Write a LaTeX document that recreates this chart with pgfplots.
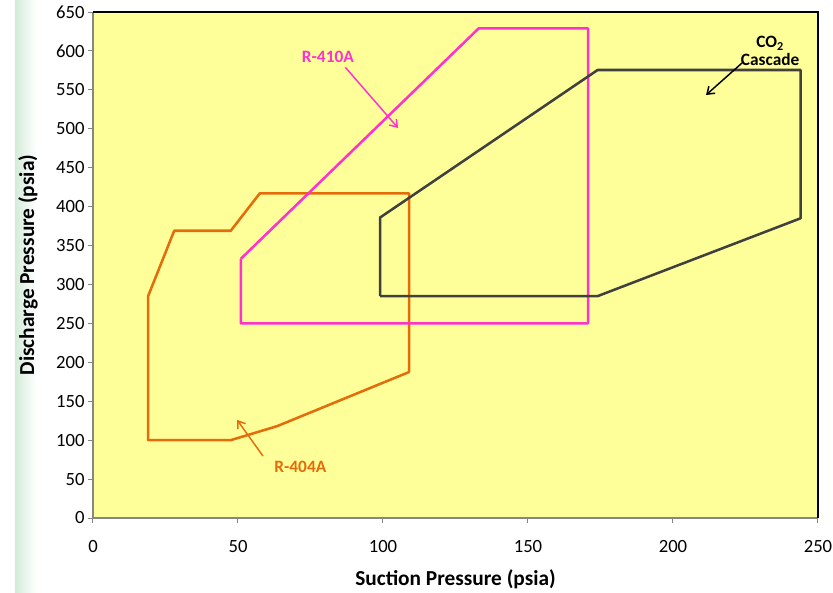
\documentclass[border=0pt]{standalone}
\usepackage{pgfplots}
\pgfplotsset{compat=1.18}
\usepackage{fontspec}
\setmainfont{Carlito}
\usetikzlibrary{arrows.meta}

\definecolor{bgyellow}{HTML}{FFFF99}
\definecolor{c404}{HTML}{E46C0A}
\definecolor{c410}{HTML}{FF33CC}
\definecolor{cco2}{HTML}{404040}
\definecolor{axgray}{HTML}{868686}
\definecolor{stripgreen}{HTML}{D4EBD9}

\begin{document}
\begin{tikzpicture}
  \useasboundingbox (-69.75pt,-56.25pt) rectangle (555pt,388.5pt);
  \fill[white] (-69.75pt,-56.25pt) rectangle (555pt,388.5pt);
  \shade[left color=stripgreen, right color=white] (-58.5pt,-56.25pt) rectangle (-42.75pt,388.5pt);

  \begin{axis}[
    at={(0,0)}, anchor=south west,
    scale only axis,
    width=543.75pt, height=379.5pt,
    xmin=0, xmax=250, ymin=0, ymax=650,
    xtick distance=50, ytick distance=50,
    tick align=outside, tick pos=left,
    major tick length=3.75pt,
    tick style={axgray, line width=0.75pt},
    axis line style={draw=none},
    axis background/.style={fill=bgyellow},
    /pgf/number format/assume math mode=true,
    ticklabel style={font=\fontsize{14}{16}\selectfont},
    xticklabel style={anchor=center, yshift=-18pt},
    yticklabel style={anchor=east, xshift=1pt},
    xlabel={Suction Pressure (psia)},
    ylabel={Discharge Pressure (psia)},
    label style={font=\fontsize{16}{18}\selectfont\bfseries},
    xlabel style={at={(axis description cs:0.5,0)}, anchor=center, yshift=-45.75pt},
    ylabel style={at={(axis description cs:0,0.5)}, anchor=center, rotate=0, yshift=48.75pt},
    clip=false,
  ]
    % R-404A
    \addplot[c404, line width=1.9pt, line join=round] coordinates {
      (19,285) (28,369) (47.5,369) (57.5,417) (109,417) (109,187.5)
      (63.5,118) (47.5,100) (19,100) (19,285)
    };
    % R-410A
    \addplot[c410, line width=1.9pt, line join=round] coordinates {
      (51,333) (51,250) (170.7,250) (170.7,629) (133,629) (51,333)
    };
    % CO2 cascade
    \addplot[cco2, line width=1.9pt, line join=round] coordinates {
      (99,285) (99,386) (174,575.5) (244,575.5) (244,385) (174,285) (99,285)
    };

    % plot area border
    \draw[axgray, line width=0.9pt] (rel axis cs:0,1) -- (rel axis cs:0,0) -- (rel axis cs:1,0);
    \draw[black, line width=0.9pt] (rel axis cs:0,1) -- (rel axis cs:1,1) -- (rel axis cs:1,0);

    % annotations
    \node[c410, font=\fontsize{13}{15}\selectfont\bfseries] at (axis cs:81,593) {R-410A};
    \draw[c410, line width=1.1pt, -{Straight Barb[length=5pt,width=7pt]}] (axis cs:87,579) -- (axis cs:105.2,501);

    \node[c404, font=\fontsize{13}{15}\selectfont\bfseries] at (axis cs:71.5,66) {R-404A};
    \draw[c404, line width=1.1pt, -{Straight Barb[length=5pt,width=7pt]}] (axis cs:58.6,79.6) -- (axis cs:49.7,126);

    \node[black, font=\fontsize{13}{15}\selectfont\bfseries, align=center] at (axis cs:233.5,600) {CO\textsubscript{2}\\[-2pt]Cascade};
    \draw[black, line width=1.1pt, -{Straight Barb[length=5pt,width=7pt]}] (axis cs:223.8,584.5) -- (axis cs:211.4,543.4);
  \end{axis}
\end{tikzpicture}
\end{document}
